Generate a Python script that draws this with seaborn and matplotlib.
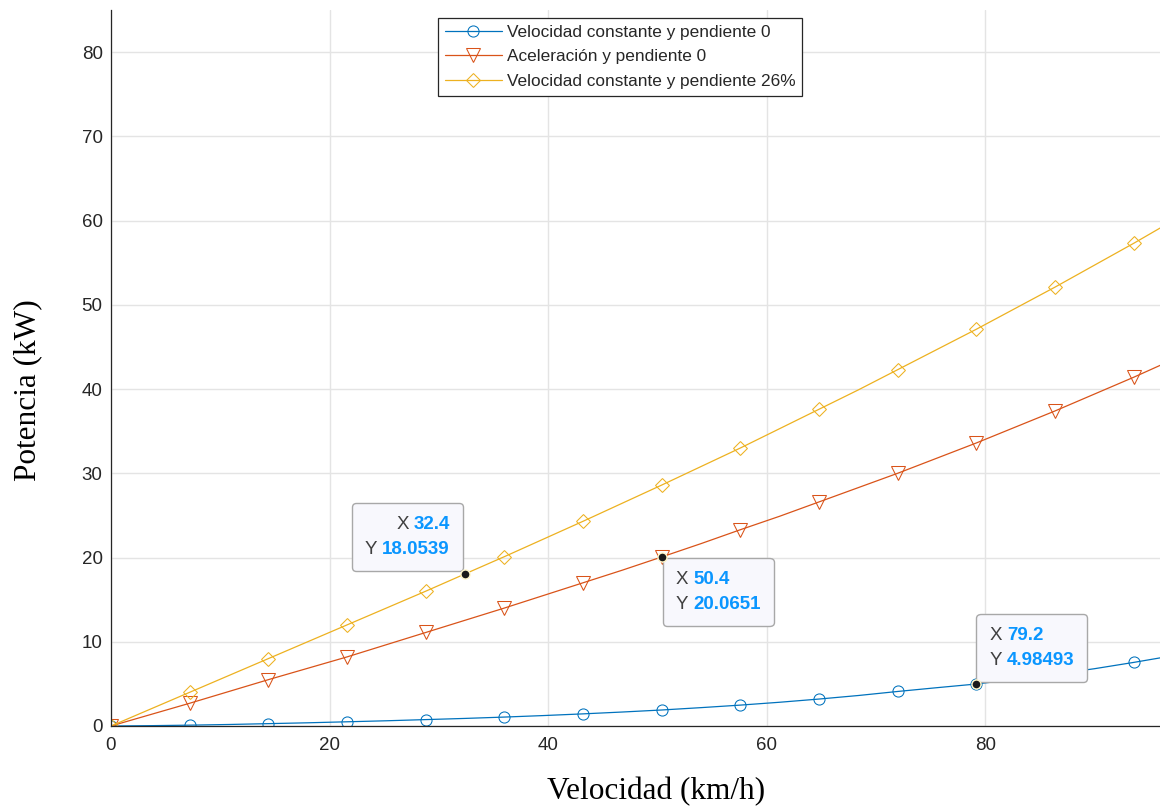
import numpy as np
import pandas as pd
import matplotlib
matplotlib.use("Agg")
import matplotlib.pyplot as plt
import seaborn as sns
from matplotlib.offsetbox import TextArea, HPacker, VPacker, AnnotationBbox

# ---------------- data ----------------
velocidad = [0, 3.6, 7.2, 10.8, 14.4, 18.0, 21.6, 25.2, 28.8, 32.4, 36.0, 39.6, 43.2, 46.8,
             50.4, 54.0, 57.6, 61.2, 64.8, 68.4, 72.0, 75.6, 79.2, 82.8, 86.4, 90.0, 93.6, 97.2]
p_const0 = [0, 0.04, 0.1, 0.18, 0.28, 0.38, 0.5, 0.62, 0.76, 0.9, 1.06, 1.24, 1.44, 1.66,
            1.9, 2.18, 2.48, 2.82, 3.2, 3.62, 4.1, 4.55, 4.98493, 5.55, 6.15, 6.8, 7.55, 8.35]
p_acel0 = [0, 1.35, 2.7, 4.1, 5.5, 6.85, 8.2, 9.65, 11.1, 12.55, 14.0, 15.5, 17.0, 18.5,
           20.0651, 21.65, 23.3, 24.9, 26.6, 28.3, 30.0, 31.8, 33.6, 35.5, 37.4, 39.4, 41.4, 43.5]
p_const26 = [0, 2.0, 4.0, 6.0, 8.0, 10.0, 12.0, 14.0, 16.0, 18.0539, 20.1, 22.2, 24.3, 26.45,
             28.6, 30.8, 33.0, 35.3, 37.6, 39.9, 42.3, 44.7, 47.1, 49.6, 52.1, 54.7, 57.3, 60.0]
series_labels = ["Velocidad constante y pendiente 0",
                 "Aceleración y pendiente 0",
                 "Velocidad constante y pendiente 26%"]
x_ticks = [0, 20, 40, 60, 80]
y_ticks = [0, 10, 20, 30, 40, 50, 60, 70, 80]
tip_x = [32.4, 50.4, 79.2]
tip_y = [18.0539, 20.0651, 4.98493]
tip_x_txt = ["32.4", "50.4", "79.2"]
tip_y_txt = ["18.0539", "20.0651", "4.98493"]

colors = ["#0072BD", "#D95319", "#EDB120"]
markers = ["o", "v", (4, 0, 0)]
msizes = [8, 9.5, 10]

# ---------------- style ----------------
sns.set_theme(style="white")
plt.rcParams["font.family"] = ["Liberation Sans", "DejaVu Sans"]

W, H = 1160, 811
fig = plt.figure(figsize=(W / 100, H / 100), dpi=100)
ax = fig.add_axes([111 / W, 1 - 726 / H, 1 - 111 / W, (726 - 9.9) / H])

df = pd.DataFrame({"v": velocidad, "a": p_const0, "b": p_acel0, "c": p_const26})
for col, lab, c, m, ms in zip(["a", "b", "c"], series_labels, colors, markers, msizes):
    sns.lineplot(data=df, x="v", y=col, ax=ax, color=c, lw=0.9, label=lab,
                 marker=m, markersize=ms, markevery=2, mfc="none", mec=c, mew=0.75,
                 errorbar=None, sort=False)

ax.set_xlim(0, 96)
ax.set_ylim(0, 85)
ax.set_xticks(x_ticks)
ax.set_yticks(y_ticks)
ax.set_xlabel("")
ax.set_ylabel("")
ax.grid(True, color="#e4e4e4", lw=1.0)
ax.set_axisbelow(True)
for s in ["top", "right"]:
    ax.spines[s].set_visible(False)
for s in ["left", "bottom"]:
    ax.spines[s].set_color("#262626")
    ax.spines[s].set_linewidth(0.9)
ax.tick_params(direction="in", length=11.5, width=0.9, color="#262626",
               labelcolor="#262626", labelsize=13.5)
ax.tick_params(axis="x", pad=8)
ax.tick_params(axis="y", pad=6)

fig.text(656 / W, 1 - 792 / H, "Velocidad (km/h)", family="Liberation Serif",
         fontsize=22.5, ha="center", va="center", color="black")
fig.text(28 / W, 1 - 390 / H, "Potencia (kW)", family="Liberation Serif",
         fontsize=22.5, ha="center", va="center", rotation=90, color="black")

leg = ax.legend(loc="upper left", bbox_to_anchor=(438 / W, 1 - 18 / H),
                bbox_transform=fig.transFigure, fontsize=12.4, handlelength=3.3,
                frameon=True, fancybox=False, edgecolor="#262626", framealpha=1,
                borderpad=0.4, labelspacing=0.55, handletextpad=0.3, borderaxespad=0)
leg.get_frame().set_linewidth(0.9)
for t in leg.get_texts():
    t.set_color("#262626")

# ---------------- data tips ----------------
ax.plot(tip_x, tip_y, ls="none", marker="o", markersize=6.5, mfc="#1a1a1a",
        mec="#fff6c8", mew=1.0, zorder=9)

PAD = 0.78  # fraction of 12pt font
p = PAD * 12  # points
aligns = ["right", "left", "left"]
box_align = [(1, 0), (0, 1), (0, 0)]
offsets = [(-1.5 - p, 2.2 + p), (0.7 + p, -0.7 - p), (0 + p, 1.5 + p)]
for xv, yv, xt, yt, al, ba, off in zip(tip_x, tip_y, tip_x_txt, tip_y_txt,
                                       aligns, box_align, offsets):
    rows = []
    for k, val in (("X", xt), ("Y", yt)):
        rows.append(HPacker(children=[
            TextArea(k, textprops=dict(color="#404040", fontsize=13.5)),
            TextArea(val, textprops=dict(color="#0A96FF", fontsize=13.5, fontweight="bold")),
        ], align="baseline", pad=0, sep=3.5))
    vp = VPacker(children=rows, align=al, pad=0, sep=6)
    ab = AnnotationBbox(vp, (xv, yv), xybox=off, xycoords="data",
                        boxcoords="offset points", box_alignment=ba, pad=PAD,
                        frameon=True, fontsize=12,
                        bboxprops=dict(boxstyle=f"round,pad={PAD},rounding_size=0.25",
                                       fc="#F8F8FD", ec="#A8A8A8", lw=1.0))
    ab.set_zorder(7)
    ax.add_artist(ab)

fig.savefig("out.png", dpi=100)
